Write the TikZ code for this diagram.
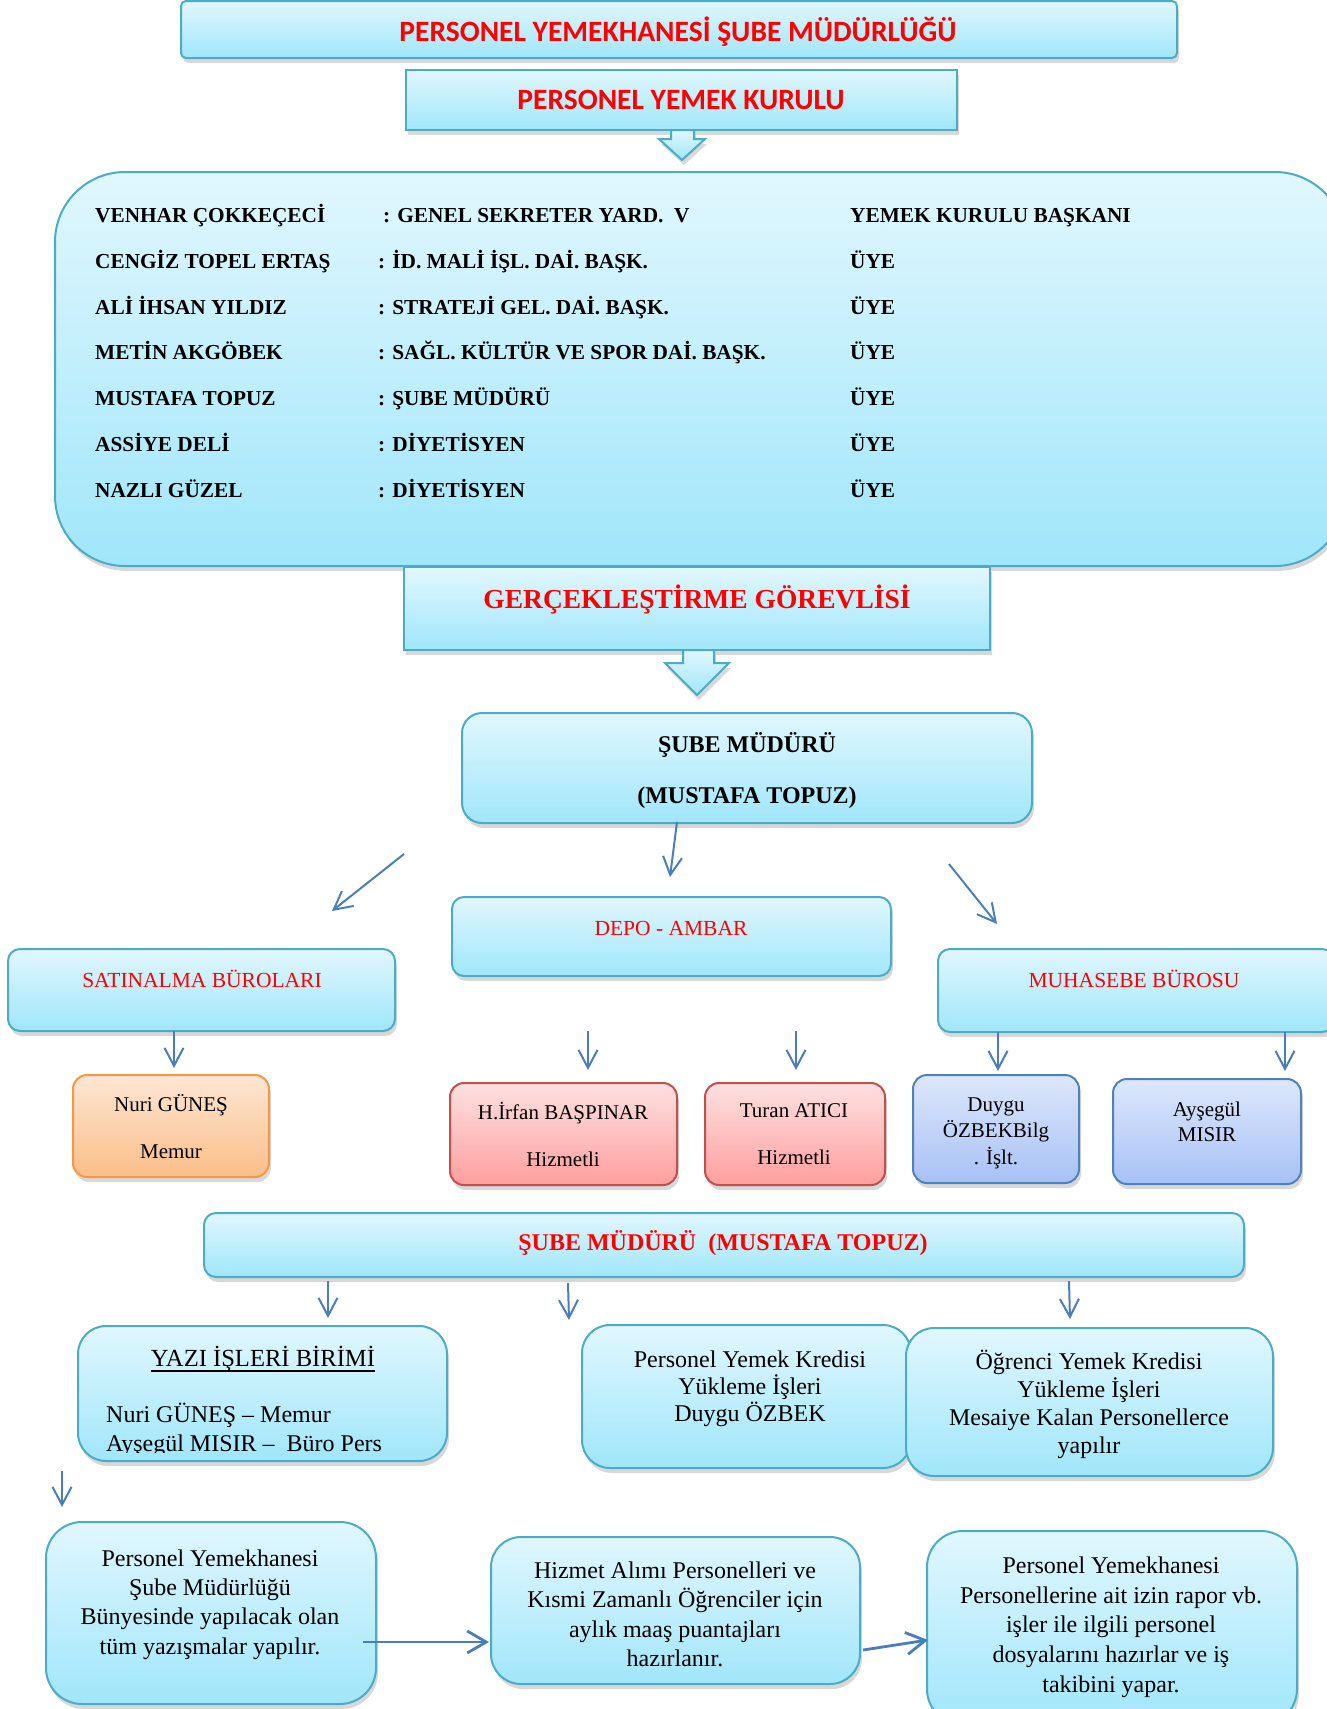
\documentclass[tikz,border=0pt]{standalone}
\usepackage{fontspec}
\setmainfont{Liberation Serif}
\newfontfamily\calibfont{Carlito}
\usetikzlibrary{shadows,arrows.meta}

\definecolor{cyanTop}{HTML}{E1F7FE}
\definecolor{cyanBot}{HTML}{A0E6FA}
\definecolor{cyanLine}{HTML}{4BACC6}
\definecolor{orgTop}{HTML}{FDE6D4}
\definecolor{orgBot}{HTML}{FBBE88}
\definecolor{orgLine}{HTML}{F79646}
\definecolor{redTop}{HTML}{FDE1E1}
\definecolor{redBot}{HTML}{FF9E9E}
\definecolor{redLine}{HTML}{C0504D}
\definecolor{bluTop}{HTML}{DDE7FB}
\definecolor{bluBot}{HTML}{A7C1F6}
\definecolor{bluLine}{HTML}{4F81BD}
\definecolor{arrowBlue}{HTML}{4A7EBB}
\definecolor{hdrRed}{HTML}{FF0000}

% fonts
\newcommand\hdfont{\calibfont\bfseries\fontsize{29.5}{34}\selectfont}
\newcommand\tabfont{\bfseries\fontsize{21.3}{25}\selectfont}
\newcommand\gerfont{\bfseries\fontsize{27.5}{32}\selectfont}
\newcommand\midfont{\bfseries\fontsize{24}{28}\selectfont}
\newcommand\lblfont{\fontsize{21}{25}\selectfont}
\newcommand\redlblfont{\fontsize{21.5}{25}\selectfont}
\newcommand\txtfont{\fontsize{24}{28}\selectfont}

% box from its corners (x1,y1)-(x2,y2), y measured downward
\newcommand\mkbox[6]{%
  \pgfmathsetmacro\bw{#5-#3}\pgfmathsetmacro\bh{#6-#4}%
  \pgfmathsetmacro\bx{(#3+#5)/2}\pgfmathsetmacro\by{-(#4+#6)/2}%
  \node[#1, minimum width=\bw pt, minimum height=\bh pt] (#2) at (\bx pt,\by pt) {};}

\begin{document}
\begin{tikzpicture}[x=1pt,y=1pt,
  shade/.style={drop shadow={opacity=0.3, shadow xshift=2pt, shadow yshift=-5pt}},
  basebox/.style={line width=2pt, inner sep=0pt, outer sep=0pt, shade},
  cyanbox/.style={basebox, draw=cyanLine, top color=cyanTop, bottom color=cyanBot},
  orgbox/.style={basebox, draw=orgLine, top color=orgTop, bottom color=orgBot, rounded corners=14pt},
  redbox/.style={basebox, draw=redLine, top color=redTop, bottom color=redBot, rounded corners=14pt},
  blubox/.style={basebox, draw=bluLine, top color=bluTop, bottom color=bluBot, rounded corners=14pt},
  hdtext/.style={font=\hdfont, text=hdrRed, inner sep=0pt},
  tabtext/.style={font=\tabfont, anchor=base west, inner sep=0pt},
  lbltext/.style={font=\redlblfont, text=hdrRed, inner sep=0pt},
  persontext/.style={font=\lblfont, align=center, inner sep=0pt},
  bodytext/.style={font=\fontsize{24}{#1}\selectfont, align=center, inner sep=0pt},
  bodytext/.default=29.4,
  flow/.style={draw=arrowBlue, line width=2pt, -{Straight Barb[length=18pt,width=19pt]}},
  flowbold/.style={draw=arrowBlue, line width=2.8pt, -{Straight Barb[length=19pt,width=22pt]}}
]
\useasboundingbox (0,0) rectangle (1327,-1709);
\clip (0,0) rectangle (1327,-1709);
\fill[white] (0,0) rectangle (1327,-1709);

% ---- headers ----
\mkbox{cyanbox, rounded corners=5pt}{hdr}{181}{1}{1177}{58}
\node[hdtext] (hdrT) at (678,-32) {PERSONEL YEMEKHANESİ ŞUBE MÜDÜRLÜĞÜ};

\mkbox{cyanbox}{kurul}{406}{70}{957}{130}
\node[hdtext] (kurulT) at (681,-99.5) {PERSONEL YEMEK KURULU};
\draw[cyanbox] (671,-130) -- (694,-130) -- (694,-139) -- (705,-139)
  -- (682,-160) -- (659,-139) -- (671,-139) -- cycle;

% ---- committee ----
\mkbox{cyanbox, rounded corners=70pt}{uye}{55}{172}{1345}{566}
\foreach \nm/\cx/\rl/\rk [count=\i from 0] in {
  VENHAR ÇOKKEÇECİ/383/{: GENEL SEKRETER YARD.\ \ V}/YEMEK KURULU BAŞKANI,
  CENGİZ TOPEL ERTAŞ/378/{: İD. MALİ İŞL. DAİ. BAŞK.}/ÜYE,
  ALİ İHSAN YILDIZ/378/{: STRATEJİ GEL. DAİ. BAŞK.}/ÜYE,
  METİN AKGÖBEK/378/{: SAĞL. KÜLTÜR VE SPOR DAİ. BAŞK.}/ÜYE,
  MUSTAFA TOPUZ/378/{: ŞUBE MÜDÜRÜ}/ÜYE,
  ASSİYE DELİ/378/{: DİYETİSYEN}/ÜYE,
  NAZLI GÜZEL/378/{: DİYETİSYEN}/ÜYE}{
  \pgfmathsetmacro\ry{-(222.6+45.76*\i)}
  \node[tabtext] (ad\i) at (95,\ry) {\nm};
  \node[tabtext] (gorev\i) at (\cx,\ry) {\rl};
  \node[tabtext] (rol\i) at (850,\ry) {\rk};
}

% ---- gerceklestirme ----
\mkbox{cyanbox}{ger}{404}{567}{990}{650}
\node[font=\gerfont, text=hdrRed, inner sep=0pt] (gerT) at (697,-600) {GERÇEKLEŞTİRME GÖREVLİSİ};
\draw[cyanbox] (683,-650) -- (714,-650) -- (714,-663) -- (729,-663)
  -- (697,-695) -- (665,-663) -- (683,-663) -- cycle;

% ---- sube muduru ----
\mkbox{cyanbox, rounded corners=20pt}{sm}{462}{713}{1032}{823}
\node[font=\midfont, align=center, inner sep=0pt,
  execute at begin node=\setlength{\baselineskip}{51pt}] (smT) at (747,-770.5)
  {ŞUBE MÜDÜRÜ\\(MUSTAFA TOPUZ)};

% ---- units ----
\mkbox{cyanbox, rounded corners=12pt}{depo}{452}{897}{891}{976}
\node[lbltext] (depoT) at (671,-928) {DEPO - AMBAR};
\mkbox{cyanbox, rounded corners=12pt}{satin}{8}{949}{395}{1031}
\node[lbltext] (satinT) at (202,-979) {SATINALMA BÜROLARI};
\mkbox{cyanbox, rounded corners=12pt}{muh}{938}{949}{1334}{1032}
\node[lbltext] (muhT) at (1134,-979) {MUHASEBE BÜROSU};

\coordinate (a1s) at (404,-854); \coordinate (a1e) at (332,-911);
\coordinate (a2s) at (677,-822); \coordinate (a2e) at (670,-877);
\coordinate (a3s) at (949,-864); \coordinate (a3e) at (997,-924);
\draw[flow] (a1s) -- (a1e);
\draw[flow] (a2s) -- (a2e);
\draw[flow] (a3s) -- (a3e);

% ---- staff ----
\mkbox{orgbox}{nuri}{73}{1075}{269}{1177}
\node[persontext, execute at begin node=\setlength{\baselineskip}{47pt}] (nuriT) at (171,-1126.5) {Nuri GÜNEŞ\\Memur};
\mkbox{redbox}{irfan}{450}{1083}{677}{1185}
\node[persontext, execute at begin node=\setlength{\baselineskip}{47pt}] (irfanT) at (563,-1134.5) {H.İrfan BAŞPINAR\\Hizmetli};
\mkbox{redbox}{turan}{705}{1083}{885}{1185}
\node[persontext, execute at begin node=\setlength{\baselineskip}{47pt}] (turanT) at (794,-1134.5) {Turan ATICI\\Hizmetli};
\mkbox{blubox}{duygu}{913}{1075}{1079}{1183}
\node[persontext, execute at begin node=\setlength{\baselineskip}{26.5pt}] (duyguT) at (996,-1133) {Duygu\\ÖZBEKBilg\\. İşlt.};
\mkbox{blubox}{ayse}{1113}{1079}{1301}{1184}
\node[persontext, execute at begin node=\setlength{\baselineskip}{25pt}] (ayseT) at (1207,-1121.5) {Ayşegül\\MISIR};

\coordinate (b1s) at (174,-1031); \coordinate (b1e) at (174,-1068);
\coordinate (b2s) at (588,-1031); \coordinate (b2e) at (588,-1070);
\coordinate (b3s) at (796,-1031); \coordinate (b3e) at (796,-1070);
\coordinate (b4s) at (998,-1032); \coordinate (b4e) at (998,-1071);
\coordinate (b5s) at (1285,-1032); \coordinate (b5e) at (1285,-1071);
\foreach \k in {1,...,5} \draw[flow] (b\k s) -- (b\k e);

% ---- second sube muduru band ----
\mkbox{cyanbox, rounded corners=12pt}{sm2}{204}{1213}{1244}{1277}
\node[font=\midfont, text=hdrRed, inner sep=0pt] (sm2T) at (723,-1243) {ŞUBE MÜDÜRÜ\ \ (MUSTAFA TOPUZ)};

\coordinate (c1s) at (328,-1281); \coordinate (c1e) at (328,-1318);
\coordinate (c2s) at (568,-1283); \coordinate (c2e) at (569,-1320);
\coordinate (c3s) at (1069,-1281); \coordinate (c3e) at (1070,-1319);
\foreach \k in {1,2,3} \draw[flow] (c\k s) -- (c\k e);

% ---- tasks ----
\mkbox{cyanbox, rounded corners=28pt}{yazi}{78}{1326}{447}{1461}
\node[font=\fontsize{24.6}{28}\selectfont, inner sep=0pt] (yaziT) at (263,-1359) {YAZI İŞLERİ BİRİMİ};
\draw[line width=1.6pt] ([yshift=-12pt]yaziT.west) -- ([yshift=-12pt]yaziT.east);
\begin{scope}
  \clip (80,-1330) rectangle (445,-1452);
  \node[font=\txtfont, anchor=base west, inner sep=0pt] (yazi1) at (106,-1422) {Nuri GÜNEŞ – Memur};
  \node[font=\txtfont, anchor=base west, inner sep=0pt] (yazi2) at (106,-1451) {Ayşegül MISIR –\ \ Büro Pers};
\end{scope}

\mkbox{cyanbox, rounded corners=28pt}{kredi}{582}{1325}{911}{1468}
\node[bodytext=27] (krediT) at (750,-1388.5) {Personel Yemek Kredisi\\Yükleme İşleri\\Duygu ÖZBEK};
\mkbox{cyanbox, rounded corners=28pt}{ogr}{906}{1328}{1273}{1476}
\node[bodytext=28] (ogrT) at (1089,-1404) {Öğrenci Yemek Kredisi\\Yükleme İşleri\\Mesaiye Kalan Personellerce\\yapılır};

\coordinate (d1s) at (62,-1471); \coordinate (d1e) at (62,-1507);
\draw[flow] (d1s) -- (d1e);

% ---- bottom row ----
\mkbox{cyanbox, rounded corners=36pt}{yazis}{46}{1522}{376}{1704}
\node[bodytext] (yazisT) at (210,-1604.5) {Personel Yemekhanesi\\Şube Müdürlüğü\\Bünyesinde yapılacak olan\\tüm yazışmalar yapılır.};
\mkbox{cyanbox, rounded corners=30pt}{puan}{491}{1537}{860}{1684}
\node[bodytext] (puanT) at (675,-1614.5) {Hizmet Alımı Personelleri ve\\Kısmi Zamanlı Öğrenciler için\\aylık maaş puantajları\\hazırlanır.};
\mkbox{cyanbox, rounded corners=36pt}{dosya}{927}{1531}{1297}{1725}
\node[bodytext=29.7] (dosyaT) at (1111,-1627) {Personel Yemekhanesi\\Personellerine ait izin rapor vb.\\işler ile ilgili personel\\dosyalarını hazırlar ve iş\\takibini yapar.};

\coordinate (e1s) at (363,-1642); \coordinate (e1e) at (489,-1642);
\coordinate (e2s) at (863,-1650); \coordinate (e2e) at (928,-1640);
\draw[flowbold] (e1s) -- (e1e);
\draw[flowbold] (e2s) -- (e2e);
\end{tikzpicture}
\end{document}
